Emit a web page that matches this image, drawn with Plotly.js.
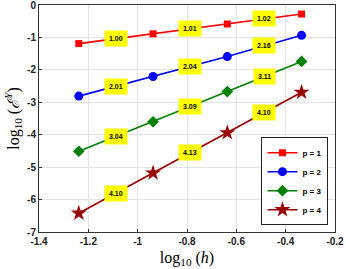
<!DOCTYPE html>
<html><head><meta charset="utf-8">
<script src="https://cdn.plot.ly/plotly-3.0.1.min.js"></script>
<style>html,body{margin:0;padding:0;background:#fff}#c{width:346px;height:269px}</style>
</head><body><div id="c"></div>
<script>
const logH = [-1.2386, -0.9376, -0.6365, -0.3355];
const err1 = [-1.19, -0.889, -0.585, -0.278];
const err2 = [-2.81, -2.205, -1.591, -0.935];
const err3 = [-4.51, -3.60, -2.67, -1.74];
const err4 = [-6.42, -5.18, -3.94, -2.69];
const rates1 = ["1.00", "1.01", "1.02"];
const rates2 = ["2.01", "2.04", "2.16"];
const rates3 = ["3.04", "3.09", "3.11"];
const rates4 = ["4.10", "4.13", "4.10"];
const names = ["p = 1", "p = 2", "p = 3", "p = 4"];
const xTicks = [-1.4, -1.2, -1, -0.8, -0.6, -0.4, -0.2];
const yTicks = [0, -1, -2, -3, -4, -5, -6, -7];

const series = [err1, err2, err3, err4];
const rates = [rates1, rates2, rates3, rates4];
const colors = ["#ff0000", "#0000ff", "#008000", "#990000"];
const symbols = ["square", "circle", "diamond", "star"];
const sizes = [7, 9, 9, 12];

const traces = series.map((y, i) => ({
  x: logH, y: y, type: "scatter", mode: "lines+markers", name: names[i],
  line: {color: colors[i], width: 1.6},
  marker: {color: colors[i], symbol: symbols[i], size: sizes[i], line: {width: 0}}
}));

const annotations = [];
series.forEach((y, i) => {
  for (let k = 0; k < y.length - 1; k++) {
    annotations.push({
      x: (logH[k] + logH[k+1]) / 2, y: (y[k] + y[k+1]) / 2,
      xref: "x", yref: "y", text: rates[i][k], showarrow: false,
      bgcolor: "#ffff00", borderpad: 4,
      font: {family: "Liberation Sans, Arial", size: 7, color: "#000", weight: "bold"}
    });
  }
});

const axisCommon = {
  showgrid: true, gridcolor: "#e3e3e3", gridwidth: 1,
  showline: true, linecolor: "#333", linewidth: 1, mirror: true,
  ticks: "inside", ticklen: 3, tickcolor: "#333",
  zeroline: false, ticklabeloverflow: "allow",
  tickfont: {family: "Liberation Sans, Arial", size: 10, color: "#222", weight: "bold"}
};

const layout = {
  width: 346, height: 269,
  margin: {l: 39, r: 11, t: 5, b: 37},
  paper_bgcolor: "#fff", plot_bgcolor: "#fff",
  showlegend: true,
  legend: {
    x: 0.978, y: 0.03, xanchor: "right", yanchor: "bottom",
    bgcolor: "#fff", bordercolor: "#222", borderwidth: 1,
    font: {family: "Liberation Sans, Arial", size: 8, color: "#000", weight: "bold"},
    tracegroupgap: 0, itemwidth: 30
  },
  xaxis: Object.assign({}, axisCommon, {
    range: [-1.4, -0.2], tickvals: xTicks, ticktext: xTicks.map(String),
    title: {text: "log<sub>10</sub> (<i>h</i>)", font: {family: "Liberation Serif, DejaVu Serif, serif", size: 16, color: "#000"}, standoff: 5}
  }),
  yaxis: Object.assign({}, axisCommon, {
    range: [-7, 0], tickvals: yTicks, ticktext: yTicks.map(String),
    title: {text: "log<sub>10</sub> (<i>ℰ<sup>Y</sup></i>)", font: {family: "Liberation Serif, DejaVu Serif, serif", size: 16, color: "#000"}, standoff: 3}
  }),
  annotations: annotations
};

Plotly.newPlot("c", traces, layout, {displayModeBar: false, staticPlot: true});
</script>
</body></html>
